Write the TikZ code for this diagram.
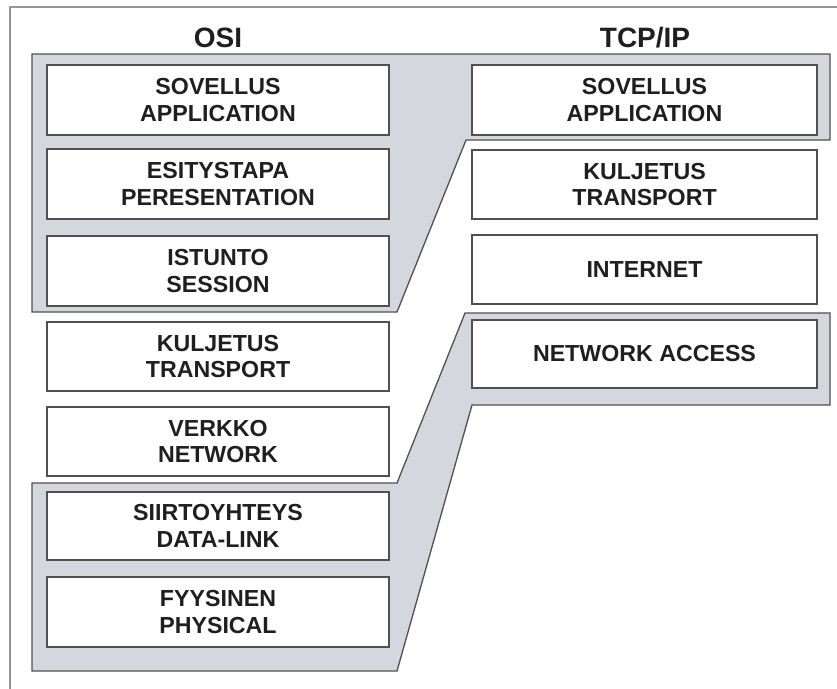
\documentclass[tikz,border=0pt]{standalone}
\usepackage{fontspec}
\setmainfont{Liberation Sans}
\definecolor{bandgray}{RGB}{212,215,221}
\definecolor{edgegray}{RGB}{80,80,80}
\definecolor{framegray}{RGB}{150,150,150}
\begin{document}
\begin{tikzpicture}[x=1pt,y=-1pt,
  layer/.style={draw=edgegray,line width=1.6pt,fill=white,rectangle,inner sep=0pt,
    align=center,font=\fontsize{23.2}{26.5}\selectfont\bfseries,text=black!88},
  band/.style={draw=edgegray,line width=1.3pt,fill=bandgray,line join=miter},
  title/.style={font=\fontsize{28}{32}\selectfont\bfseries,text=black!88,anchor=base}]
\useasboundingbox (0,0) rectangle (837,688);
\begin{scope}
\clip (0,0) rectangle (837,688);
\draw[framegray,line width=1.5pt] (10,7) rectangle (860,720);
\end{scope}
% bands
\draw[band] (32,54) -- (830,54) -- (830,140) -- (466,140) -- (397,312) -- (32,312) -- cycle;
\draw[band] (32,483) -- (397,483) -- (465,313) -- (830,313) -- (830,405) -- (472,405) -- (397,671) -- (32,671) -- cycle;
% titles
\node[title] (osi) at (218,47) {OSI};
\node[title] (tcp) at (645,47) {TCP/IP};
% OSI layers
\newcommand{\osibox}[4]{\node[layer,minimum width=342pt,minimum height=#3pt] (#1) at (218,#2) {#4};}
\osibox{o1}{100}{70}{SOVELLUS\\APPLICATION}
\osibox{o2}{184}{70}{ESITYSTAPA\\PERESENTATION}
\osibox{o3}{271}{70}{ISTUNTO\\SESSION}
\osibox{o4}{356.5}{69}{KULJETUS\\TRANSPORT}
\osibox{o5}{441.5}{69}{VERKKO\\NETWORK}
\osibox{o6}{526}{68}{SIIRTOYHTEYS\\DATA-LINK}
\osibox{o7}{612}{70}{FYYSINEN\\PHYSICAL}
% TCP/IP layers
\newcommand{\tcpbox}[4]{\node[layer,minimum width=345pt,minimum height=#3pt] (#1) at (644.5,#2) {#4};}
\tcpbox{t1}{100}{70}{SOVELLUS\\APPLICATION}
\tcpbox{t2}{184.5}{69}{KULJETUS\\TRANSPORT}
\tcpbox{t3}{269.5}{69}{INTERNET}
\tcpbox{t4}{354}{68}{NETWORK ACCESS}
\end{tikzpicture}
\end{document}
